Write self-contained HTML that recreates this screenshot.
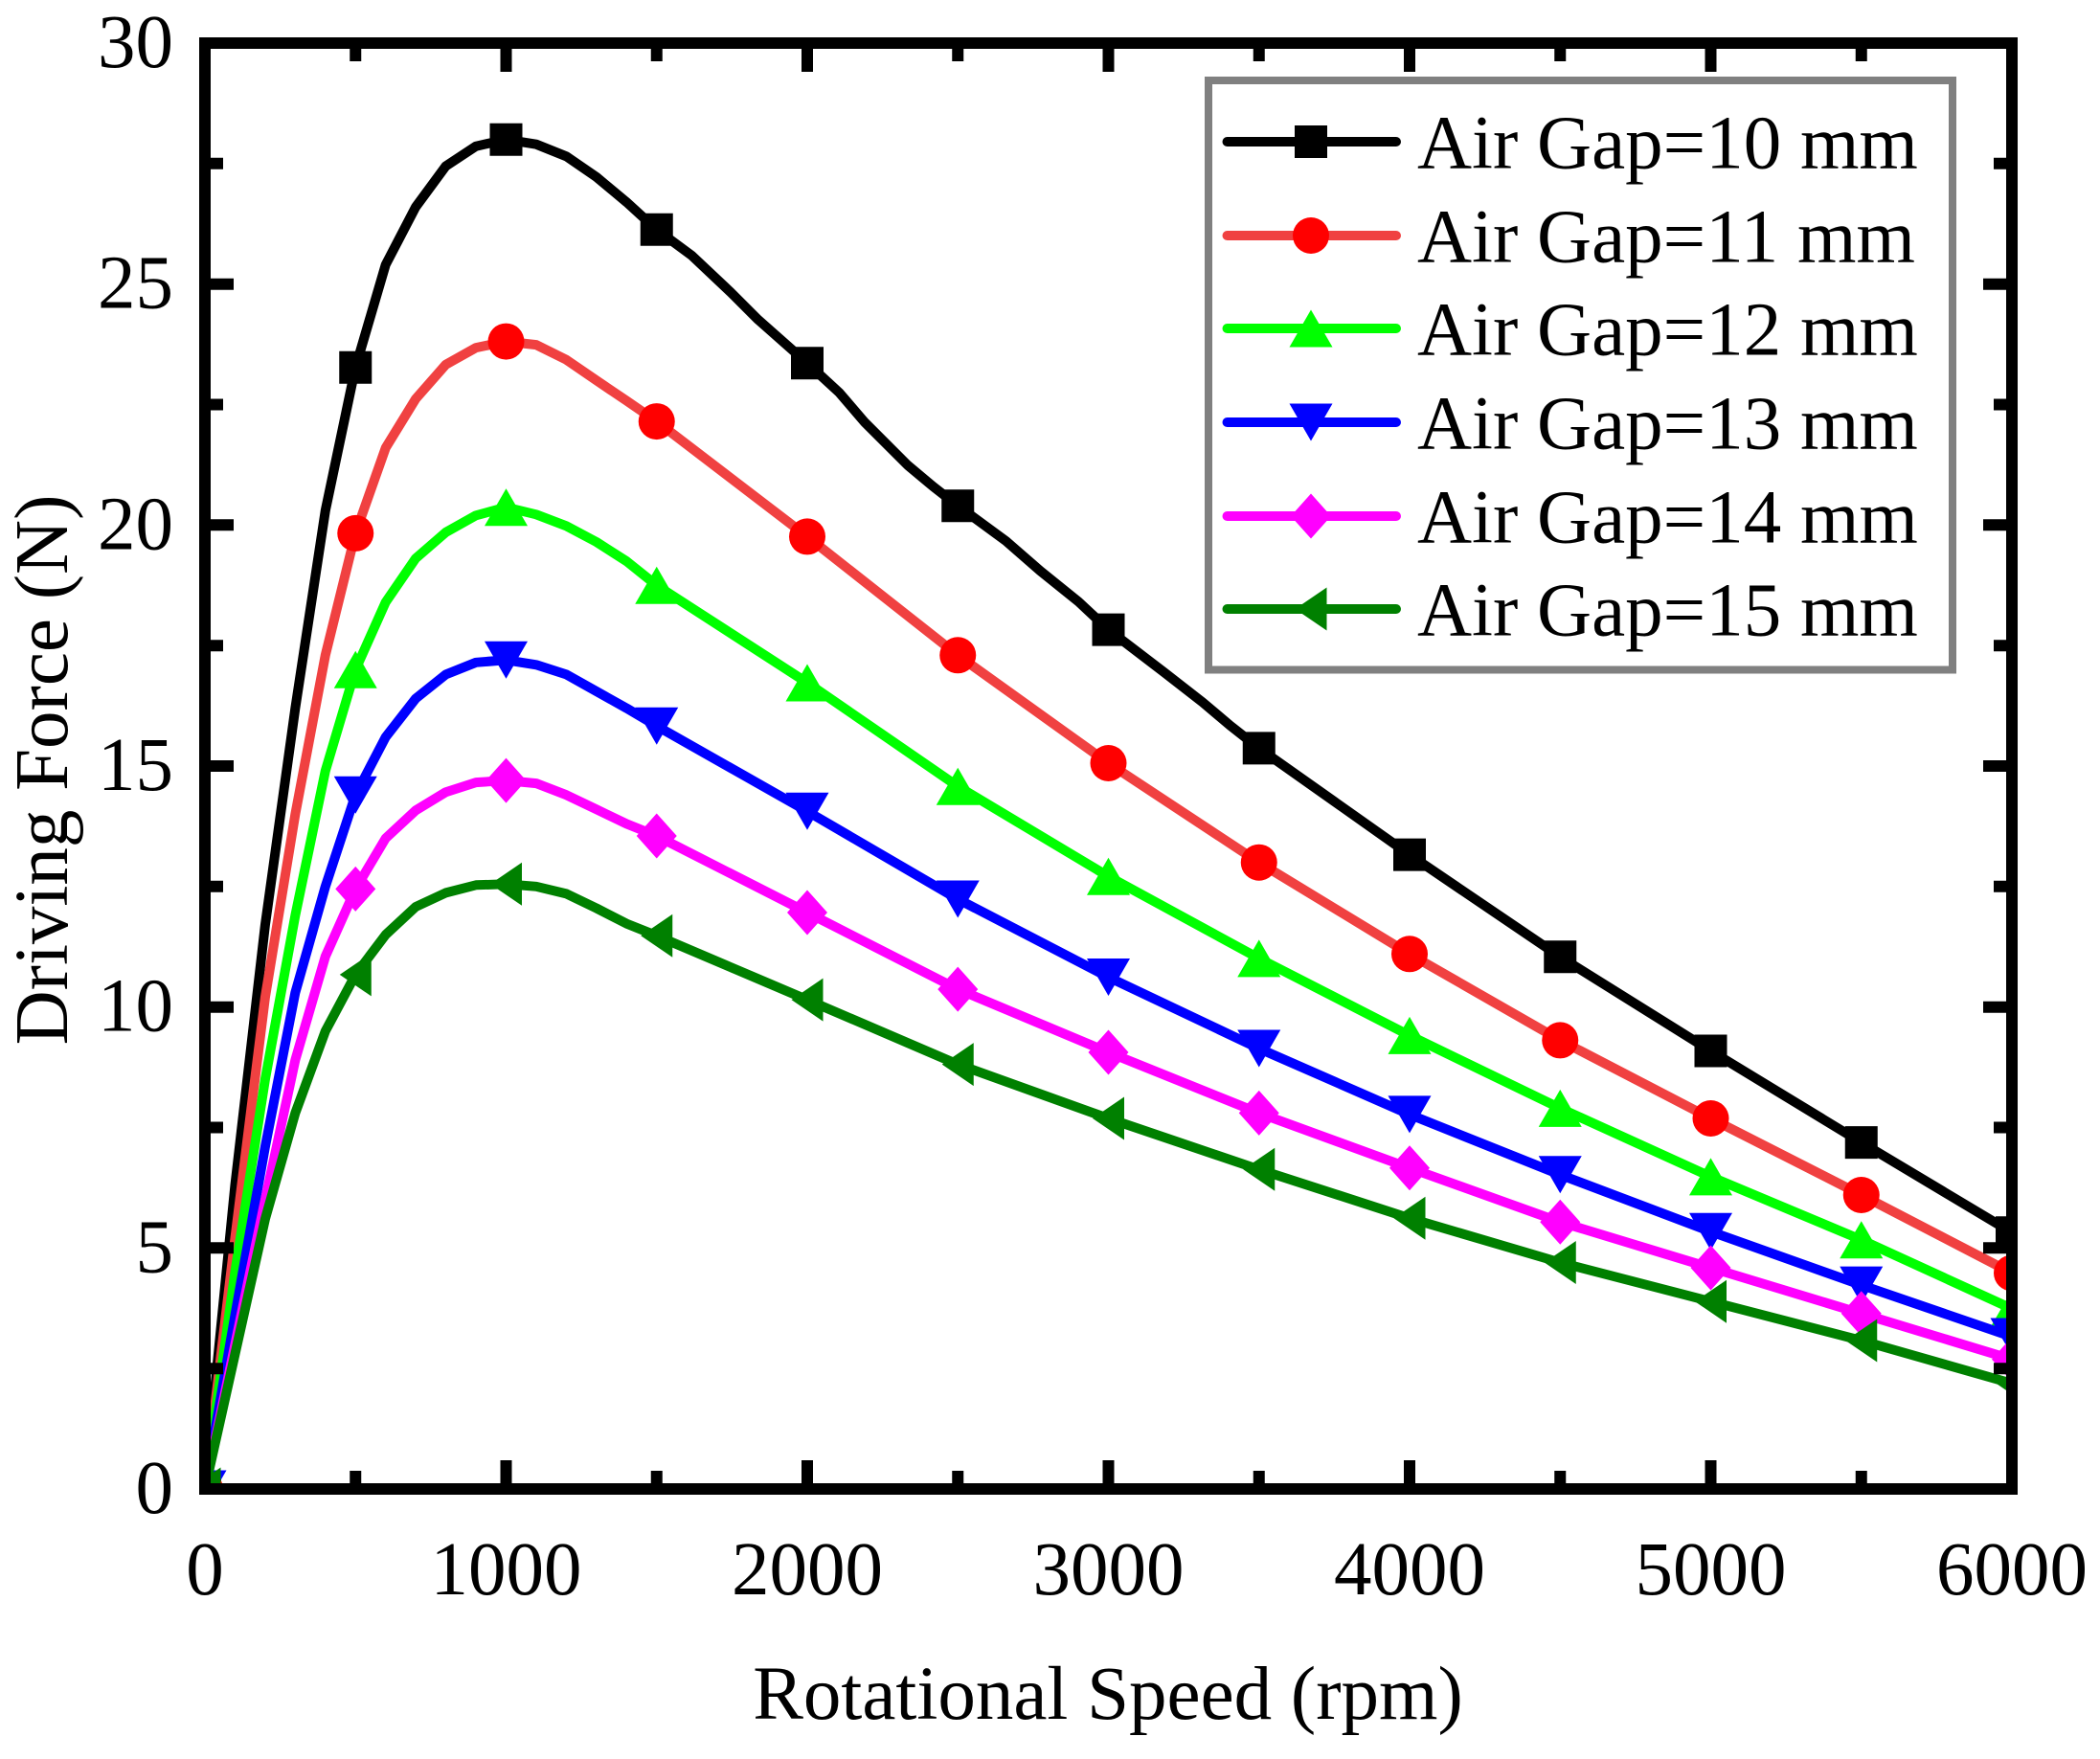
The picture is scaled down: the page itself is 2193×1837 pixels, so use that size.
<!DOCTYPE html>
<html>
<head>
<meta charset="utf-8">
<style>
  html, body { margin: 0; padding: 0; background: #fff; }
  svg { display: block; }
  text { font-family: "Liberation Serif", "Times New Roman", serif; fill: #000; }
</style>
</head>
<body>
<svg width="2193" height="1837" viewBox="0 0 2193 1837" xmlns="http://www.w3.org/2000/svg">
  <defs>
    <clipPath id="plot"><rect x="214" y="45" width="1887" height="1510"/></clipPath>
    <path id="sq" d="M-17,-17h34v34h-34z"/>
    <circle id="ci" cx="0" cy="0" r="19"/>
    <path id="tu" d="M0,-19.5L22.5,19.5L-22.5,19.5z"/>
    <path id="td" d="M-22.5,-19.5L22.5,-19.5L0,19.5z"/>
    <path id="di" d="M0,-23.5L21,0L0,23.5L-21,0z"/>
    <path id="tl" d="M-16.5,0L16.5,-22.5L16.5,22.5z"/>
  </defs>
  <rect width="2193" height="1837" fill="#fff"/>

  <g clip-path="url(#plot)" fill="none" stroke-width="10" stroke-linejoin="round" stroke-linecap="round">
    <!-- Black 10 mm -->
    <polyline stroke="#000000" points="214,1555 245.45,1237.9 276.9,966.1 308.35,739.6 339.8,533.2 371.25,383.7 402.7,276.5 434.15,216.1 465.6,173.4 497.05,152.7 528.5,145.7 559.95,150.7 591.4,163.3 622.85,184.9 654.3,211.1 685.75,239.8 722.4,266.9 762.6,304.8 791.6,333.8 843,379.2 876.4,410 903.2,441.2 947.9,485.9 974.6,508.2 1000.25,528.2 1050.5,565 1086.3,596.2 1126.4,628.5 1157.5,657.6 1215.7,702.1 1255.9,733.4 1284.9,757.9 1314.75,781.4 1472,892.6 1629.25,999.3 1786.5,1097.5 1943.75,1193.1 2101,1287.2"/>
    <g fill="#000000" stroke="none">
      <use href="#sq" x="214" y="1555"/><use href="#sq" x="371.25" y="383.7"/><use href="#sq" x="528.5" y="145.7"/><use href="#sq" x="685.75" y="239.8"/><use href="#sq" x="843" y="379.2"/><use href="#sq" x="1000.25" y="528.2"/><use href="#sq" x="1157.5" y="657.6"/><use href="#sq" x="1314.75" y="781.4"/><use href="#sq" x="1472" y="892.6"/><use href="#sq" x="1629.25" y="999.3"/><use href="#sq" x="1786.5" y="1097.5"/><use href="#sq" x="1943.75" y="1193.1"/><use href="#sq" x="2101" y="1287.2"/>
    </g>

    <!-- Red 11 mm -->
    <polyline stroke="#f04141" points="214,1555 245.45,1293.3 276.9,1041.6 308.35,850.3 339.8,684.2 371.25,556.9 402.7,467.8 434.15,416.5 465.6,380.7 497.05,363.1 528.5,356.6 559.95,360.1 591.4,375.7 622.85,397.3 654.3,418.5 685.75,440.1 843,560.4 1000.25,684.3 1157.5,797 1314.75,900.7 1472,996.3 1629.25,1086.4 1786.5,1168 1943.75,1248 2101,1329.5"/>
    <g fill="#ff0000" stroke="none">
      <use href="#ci" x="214" y="1555"/><use href="#ci" x="371.25" y="556.9"/><use href="#ci" x="528.5" y="356.6"/><use href="#ci" x="685.75" y="440.1"/><use href="#ci" x="843" y="560.4"/><use href="#ci" x="1000.25" y="684.3"/><use href="#ci" x="1157.5" y="797"/><use href="#ci" x="1314.75" y="900.7"/><use href="#ci" x="1472" y="996.3"/><use href="#ci" x="1629.25" y="1086.4"/><use href="#ci" x="1786.5" y="1168"/><use href="#ci" x="1943.75" y="1248"/><use href="#ci" x="2101" y="1329.5"/>
    </g>

    <!-- Green 12 mm -->
    <polyline stroke="#00ff00" points="214,1555 245.45,1328.5 276.9,1127.2 308.35,956 339.8,805 371.25,699.3 402.7,628.9 434.15,583.1 465.6,555.9 497.05,538.3 528.5,529.7 559.95,537.3 591.4,549.3 622.85,566 654.3,586.1 685.75,611.3 843,713 1000.25,821.2 1157.5,915.3 1314.75,1000.9 1472,1081.4 1629.25,1157.4 1786.5,1228.9 1943.75,1294.8 2101,1366.8"/>
    <g fill="#00ff00" stroke="none">
      <use href="#tu" x="214" y="1555"/><use href="#tu" x="371.25" y="699.3"/><use href="#tu" x="528.5" y="529.7"/><use href="#tu" x="685.75" y="611.3"/><use href="#tu" x="843" y="713"/><use href="#tu" x="1000.25" y="821.2"/><use href="#tu" x="1157.5" y="915.3"/><use href="#tu" x="1314.75" y="1000.9"/><use href="#tu" x="1472" y="1081.4"/><use href="#tu" x="1629.25" y="1157.4"/><use href="#tu" x="1786.5" y="1228.9"/><use href="#tu" x="1943.75" y="1294.8"/><use href="#tu" x="2101" y="1366.8"/>
    </g>

    <!-- Blue 13 mm -->
    <polyline stroke="#0000ff" points="214,1555 245.45,1373.8 276.9,1197.6 308.35,1036.6 339.8,925.8 371.25,830.2 402.7,769.8 434.15,729.5 465.6,704.4 497.05,691.8 528.5,689.3 559.95,694.3 591.4,704.4 622.85,722 654.3,739.6 685.75,758.2 843,847.3 1000.25,939 1157.5,1020.5 1314.75,1095 1472,1163.9 1629.25,1226.8 1786.5,1286.2 1943.75,1342.1 2101,1396"/>
    <g fill="#0000ff" stroke="none">
      <use href="#td" x="214" y="1555"/><use href="#td" x="371.25" y="830.2"/><use href="#td" x="528.5" y="689.3"/><use href="#td" x="685.75" y="758.2"/><use href="#td" x="843" y="847.3"/><use href="#td" x="1000.25" y="939"/><use href="#td" x="1157.5" y="1020.5"/><use href="#td" x="1314.75" y="1095"/><use href="#td" x="1472" y="1163.9"/><use href="#td" x="1629.25" y="1226.8"/><use href="#td" x="1786.5" y="1286.2"/><use href="#td" x="1943.75" y="1342.1"/><use href="#td" x="2101" y="1396"/>
    </g>

    <!-- Magenta 14 mm -->
    <polyline stroke="#ff00ff" points="214,1555 245.45,1404 276.9,1253 308.35,1107 339.8,998.8 371.25,928.4 402.7,875.5 434.15,846.3 465.6,827.2 497.05,817.1 528.5,815.1 559.95,818.1 591.4,830.2 622.85,845.3 654.3,860.4 685.75,873 843,953 1000.25,1033.1 1157.5,1099 1314.75,1162.4 1472,1219.8 1629.25,1276.2 1786.5,1324 1943.75,1371.8 2101,1419.6"/>
    <g fill="#ff00ff" stroke="none">
      <use href="#di" x="214" y="1555"/><use href="#di" x="371.25" y="928.4"/><use href="#di" x="528.5" y="815.1"/><use href="#di" x="685.75" y="873"/><use href="#di" x="843" y="953"/><use href="#di" x="1000.25" y="1033.1"/><use href="#di" x="1157.5" y="1099"/><use href="#di" x="1314.75" y="1162.4"/><use href="#di" x="1472" y="1219.8"/><use href="#di" x="1629.25" y="1276.2"/><use href="#di" x="1786.5" y="1324"/><use href="#di" x="1943.75" y="1371.8"/><use href="#di" x="2101" y="1419.6"/>
    </g>

    <!-- Dark green 15 mm -->
    <polyline stroke="#008000" points="214,1555 245.45,1414.1 276.9,1273.1 308.35,1162.4 339.8,1076.8 371.25,1017.9 402.7,976.2 434.15,947 465.6,932.4 497.05,924.3 528.5,923.3 559.95,925.8 591.4,933.4 622.85,948.5 654.3,964.6 685.75,977.2 843,1044.1 1000.25,1111.6 1157.5,1168 1314.75,1221.3 1472,1272.2 1629.25,1318.5 1786.5,1359.2 1943.75,1400 2101,1444.8"/>
    <g fill="#008000" stroke="none">
      <use href="#tl" x="214" y="1555"/><use href="#tl" x="371.25" y="1017.9"/><use href="#tl" x="528.5" y="923.3"/><use href="#tl" x="685.75" y="977.2"/><use href="#tl" x="843" y="1044.1"/><use href="#tl" x="1000.25" y="1111.6"/><use href="#tl" x="1157.5" y="1168"/><use href="#tl" x="1314.75" y="1221.3"/><use href="#tl" x="1472" y="1272.2"/><use href="#tl" x="1629.25" y="1318.5"/><use href="#tl" x="1786.5" y="1359.2"/><use href="#tl" x="1943.75" y="1400"/><use href="#tl" x="2101" y="1444.8"/>
    </g>
  </g>

  <!-- Ticks -->
  <path stroke="#000" stroke-width="12" fill="none" d="
    M214,1555V1525 M528.5,1555V1525 M843,1555V1525 M1157.5,1555V1525 M1472,1555V1525 M1786.5,1555V1525 M2101,1555V1525
    M371.25,1555V1536 M685.75,1555V1536 M1000.25,1555V1536 M1314.75,1555V1536 M1629.25,1555V1536 M1943.75,1555V1536
    M214,45V75 M528.5,45V75 M843,45V75 M1157.5,45V75 M1472,45V75 M1786.5,45V75 M2101,45V75
    M371.25,45V64 M685.75,45V64 M1000.25,45V64 M1314.75,45V64 M1629.25,45V64 M1943.75,45V64
    M214,1555H244 M214,1303.3H244 M214,1051.7H244 M214,800H244 M214,548.3H244 M214,296.7H244 M214,45H244
    M214,1429.2H233 M214,1177.5H233 M214,925.8H233 M214,674.2H233 M214,422.5H233 M214,170.8H233
    M2101,1555H2071 M2101,1303.3H2071 M2101,1051.7H2071 M2101,800H2071 M2101,548.3H2071 M2101,296.7H2071 M2101,45H2071
    M2101,1429.2H2082 M2101,1177.5H2082 M2101,925.8H2082 M2101,674.2H2082 M2101,422.5H2082 M2101,170.8H2082"/>

  <!-- Frame -->
  <rect x="214" y="45" width="1887" height="1510" fill="none" stroke="#000" stroke-width="12" stroke-linejoin="miter"/>

  <!-- Y tick labels -->
  <g font-size="79" text-anchor="end">
    <text x="181" y="1580">0</text>
    <text x="181" y="1328.3">5</text>
    <text x="181" y="1076.7">10</text>
    <text x="181" y="825">15</text>
    <text x="181" y="573.3">20</text>
    <text x="181" y="321.7">25</text>
    <text x="181" y="70">30</text>
  </g>

  <!-- X tick labels -->
  <g font-size="79" text-anchor="middle">
    <text x="214" y="1665">0</text>
    <text x="528.5" y="1665">1000</text>
    <text x="843" y="1665">2000</text>
    <text x="1157.5" y="1665">3000</text>
    <text x="1472" y="1665">4000</text>
    <text x="1786.5" y="1665">5000</text>
    <text x="2101" y="1665">6000</text>
  </g>

  <!-- Axis titles -->
  <text x="1157" y="1795" font-size="79" text-anchor="middle">Rotational Speed (rpm)</text>
  <text transform="translate(70,804) rotate(-90)" font-size="79" text-anchor="middle">Driving Force (N)</text>

  <!-- Legend -->
  <rect x="1262" y="84" width="777" height="615.5" fill="#fff" stroke="#808080" stroke-width="8"/>
  <g stroke-width="10" stroke-linecap="round" fill="none">
    <line x1="1281.5" y1="148" x2="1458" y2="148" stroke="#000000"/>
    <line x1="1281.5" y1="246" x2="1458" y2="246" stroke="#f04141"/>
    <line x1="1281.5" y1="343" x2="1458" y2="343" stroke="#00ff00"/>
    <line x1="1281.5" y1="441" x2="1458" y2="441" stroke="#0000ff"/>
    <line x1="1281.5" y1="539" x2="1458" y2="539" stroke="#ff00ff"/>
    <line x1="1281.5" y1="636" x2="1458" y2="636" stroke="#008000"/>
  </g>
  <use href="#sq" x="1369" y="148" fill="#000000"/>
  <use href="#ci" x="1369" y="246" fill="#ff0000"/>
  <use href="#tu" x="1369" y="343" fill="#00ff00"/>
  <use href="#td" x="1369" y="441" fill="#0000ff"/>
  <use href="#di" x="1369" y="539" fill="#ff00ff"/>
  <use href="#tl" x="1369" y="636" fill="#008000"/>
  <g font-size="79">
    <text x="1480" y="175.5">Air Gap=10 mm</text>
    <text x="1480" y="273.5">Air Gap=11 mm</text>
    <text x="1480" y="370.5">Air Gap=12 mm</text>
    <text x="1480" y="468.5">Air Gap=13 mm</text>
    <text x="1480" y="566.5">Air Gap=14 mm</text>
    <text x="1480" y="663.5">Air Gap=15 mm</text>
  </g>
</svg>
</body>
</html>
